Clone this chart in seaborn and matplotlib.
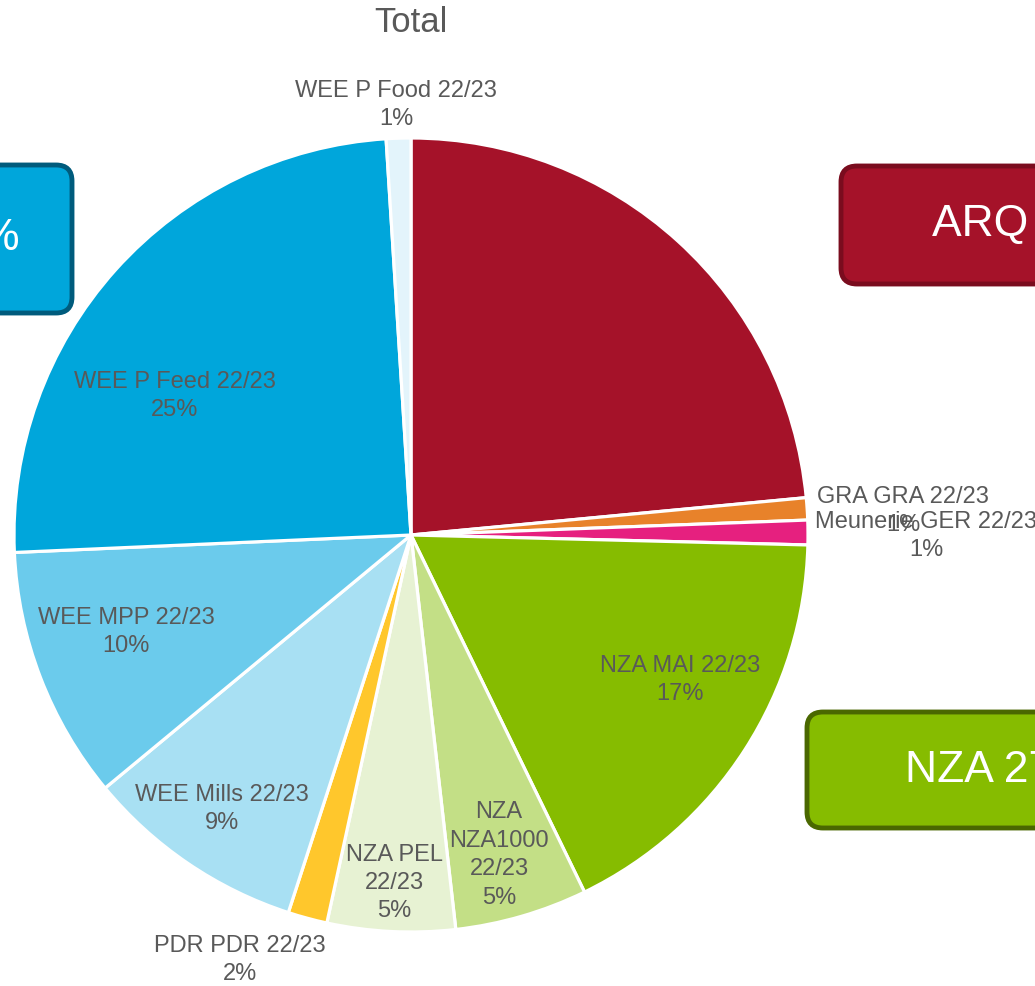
import matplotlib
matplotlib.use("Agg")
import matplotlib.pyplot as plt
import seaborn as sns
from matplotlib.patches import FancyBboxPatch

sns.set_theme(style="white")
plt.rcParams['font.family'] = ['Liberation Sans', 'DejaVu Sans']

# data (share of total, %)
segments = ["ARQ 22/23", "GRA GRA 22/23", "Meunerie GER 22/23", "NZA MAI 22/23",
            "NZA\nNZA1000\n22/23", "NZA PEL\n22/23", "PDR PDR 22/23",
            "WEE Mills 22/23", "WEE MPP 22/23", "WEE P Feed 22/23", "WEE P Food 22/23"]
shares = [23.5, 0.9, 1.0, 17.4, 5.4, 5.2, 1.6, 9.0, 10.3, 24.7, 1.0]
colors = ["#A51229", "#E8822A", "#E6207F", "#86BC00", "#C3DF86", "#E7F2D3",
          "#FFC72C", "#A8E0F3", "#6BCBEC", "#00A6DB", "#E3F4FB"]
show_label = [False, True, True, True, True, True, True, True, True, True, True]

# group callouts
groups = ["WEE", "ARQ", "NZA"]
group_shares = [45, 24, 27]

W, H = 1035, 986
fig = plt.figure(figsize=(W / 100, H / 100), dpi=100)
ax = fig.add_axes([0, 0, 1, 1])


def py(y):
    # pixel row -> data y
    return H - y


ax.pie(shares, colors=colors, startangle=90, counterclock=False,
       center=(411, py(535)), radius=397,
       wedgeprops=dict(edgecolor="white", linewidth=2.3))
ax.set_xlim(0, W)
ax.set_ylim(0, H)
ax.set_aspect("equal")
ax.axis("off")

# label layout (pixel centres)
label_pos = [None, (903, 511), (926, 536), (680, 680), (499, 855), (394, 883),
             (240, 960), (222, 809), (126, 632), (175, 396), (396, 105)]
total = sum(shares)
for name, val, pos, show in zip(segments, shares, label_pos, show_label):
    if not show:
        continue
    ax.text(pos[0], py(pos[1]), f"{name}\n{val / total * 100:.0f}%",
            ha="center", va="center", fontsize=17, color="#595959",
            linespacing=1.38)

ax.text(411, py(22), "Total", ha="center", va="center", fontsize=25, color="#595959")

# callout boxes (partly outside the figure)
box_style = [
    dict(x=-200, y=165, w=272, h=148, fc="#00A6DB", ec="#005B7C", tx=20, ha="right"),
    dict(x=841, y=166, w=300, h=118, fc="#A51229", ec="#7A0C1E", tx=932, ha="left"),
    dict(x=807, y=712, w=300, h=116, fc="#86BC00", ec="#4A6800", tx=905, ha="left"),
]
for g, s, b in zip(groups, group_shares, box_style):
    patch = FancyBboxPatch((b["x"], py(b["y"] + b["h"])), b["w"], b["h"],
                           boxstyle="round,pad=0,rounding_size=16",
                           fc=b["fc"], ec=b["ec"], linewidth=3.5, clip_on=False)
    ax.add_patch(patch)
    ax.text(b["tx"], py(b["y"] + b["h"] / 2), f"{g} {s}%", ha=b["ha"], va="center",
            fontsize=32, color="white", clip_on=False)

fig.savefig("out.png", dpi=100, facecolor="white")
